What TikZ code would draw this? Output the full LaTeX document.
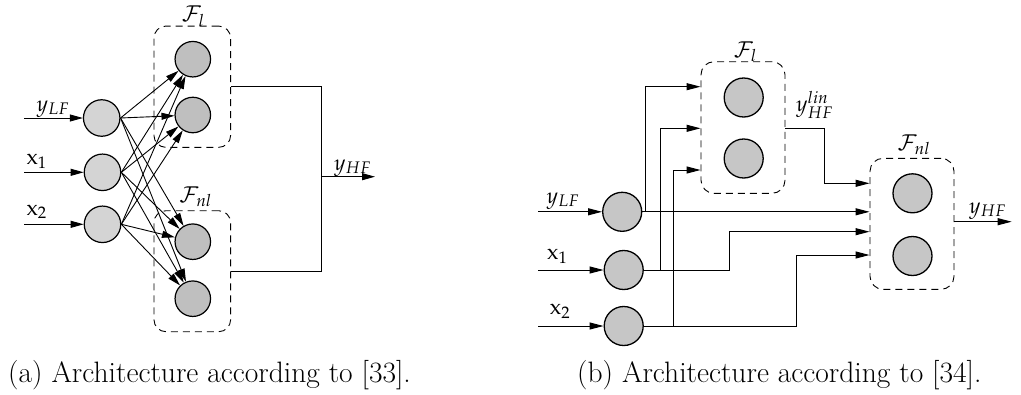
\documentclass[tikz,border=0pt]{standalone}
\usepackage{mathpazo}
\usetikzlibrary{arrows.meta}
\definecolor{inA}{HTML}{D4D4D4}
\definecolor{hidA}{HTML}{BFBFBF}
\definecolor{nodB}{HTML}{C6C6C6}
\begin{document}
\begin{tikzpicture}[x=1pt,y=-1pt,
  arr/.style={-{Triangle[length=13pt,width=7pt]}, line width=0.9pt},
  arrB/.style={-{Triangle[length=14pt,width=7pt]}, line width=1pt},
  plain/.style={line width=1pt},
  neuin/.style={circle, draw, line width=1.2pt, fill=inA, minimum size=36.5pt, inner sep=0pt},
  neuhid/.style={circle, draw, line width=1.2pt, fill=hidA, minimum size=35.5pt, inner sep=0pt},
  neub/.style={circle, draw, line width=1.3pt, fill=nodB, minimum size=39pt, inner sep=0pt},
  dbox/.style={draw, dashed, dash pattern=on 7pt off 5pt, line width=0.9pt, rounded corners=12pt, inner sep=0pt},
  lbl/.style={font=\fontsize{22}{26}\selectfont, inner sep=0pt, anchor=base},
  captext/.style={font=\fontsize{29.5}{34}\selectfont, inner sep=0pt, anchor=base west}
]
\useasboundingbox (0,0) rectangle (1021,394);

% ---------------- panel (a) ----------------
\node[neuin] (a1) at (101.7,118) {};
\node[neuin] (a2) at (102.5,172.3) {};
\node[neuin] (a3) at (102.5,224.3) {};
\node[neuhid] (h1) at (192.8,59.2) {};
\node[neuhid] (h2) at (192.8,115) {};
\node[neuhid] (h3) at (192.8,241.7) {};
\node[neuhid] (h4) at (192.8,298.7) {};
\node[dbox, minimum width=76.7pt, minimum height=121.3pt] (fla) at (192.3,86.7) {};
\node[dbox, minimum width=76.7pt, minimum height=121pt] (fnla) at (192.3,271.2) {};

\coordinate (ia1) at (24,118);
\coordinate (ia2) at (24,172.3);
\coordinate (ia3) at (24,224.3);
\draw[arr] (ia1) -- (a1);
\draw[arr] (ia2) -- (a2);
\draw[arr] (ia3) -- (a3);

\foreach \s in {a1,a2,a3}{
  \foreach \t in {h1,h2,h3,h4}{
    \draw[arr] (\s.east) -- (\t);
  }
}

\coordinate (ja) at (321.7,176.7);
\coordinate (oa) at (375,176.7);
\draw[plain] (fla.east) -| (ja) |- (fnla.east);
\draw[arr] (ja) -- (oa);

\node[lbl] (lya) at (53,111) {$y_{LF}$};
\node[lbl] (lx1a) at (36.7,164.5) {$\mathrm{x}_1$};
\node[lbl] (lx2a) at (36.7,215) {$\mathrm{x}_2$};
\node[lbl] (lfla) at (193.3,21.5) {$\mathcal{F}_l$};
\node[lbl] (lfnla) at (195.7,202) {$\mathcal{F}_{nl}$};
\node[lbl] (lyha) at (352.5,170) {$y_{HF}$};

% ---------------- panel (b) ----------------
\node[neub] (b1) at (622.2,211.8) {};
\node[neub] (b2) at (623.7,270) {};
\node[neub] (b3) at (623.7,326) {};
\node[neub] (g1) at (743.7,97.5) {};
\node[neub] (g2) at (743.7,158.5) {};
\node[neub] (g3) at (912.5,193.3) {};
\node[neub] (g4) at (912.5,256) {};
\node[dbox, rounded corners=13pt, minimum width=84pt, minimum height=131.6pt] (flb) at (743,127.5) {};
\node[dbox, rounded corners=13pt, minimum width=84pt, minimum height=131pt] (fnlb) at (912,223.8) {};

\coordinate (ib1) at (538.3,211.8);
\coordinate (ib2) at (538.3,270);
\coordinate (ib3) at (538.3,326);
\draw[arrB] (ib1) -- (b1);
\draw[arrB] (ib2) -- (b2);
\draw[arrB] (ib3) -- (b3);

\coordinate (c1) at (645,86.7);
\coordinate (c2) at (660,128.3);
\coordinate (c3) at (729.3,231.7);
\coordinate (c4) at (673.3,170);
\coordinate (c5) at (796.7,255);
\coordinate (c6) at (824,183.3);
\coordinate (ob) at (1011.7,221.7);

\draw[arrB] (b1.east) -| (c1) -- (flb.west |- c1);
\draw[arrB] (b1.east) -- (fnlb.west |- b1.east);
\draw[arrB] (b2.east) -| (c2) -- (flb.west |- c2);
\draw[arrB] (b2.east) -| (c3) -- (fnlb.west |- c3);
\draw[arrB] (b3.east) -| (c4) -- (flb.west |- c4);
\draw[arrB] (b3.east) -| (c5) -- (fnlb.west |- c5);
\draw[arrB] (flb.east |- c2) -| (c6) -- (fnlb.west |- c6);
\draw[arrB] (fnlb.east |- ob) -- (ob);

\node[lbl] (lyb) at (563,203) {$y_{LF}$};
\node[lbl] (lx1b) at (557.3,259.5) {$\mathrm{x}_1$};
\node[lbl] (lx2b) at (560,314.5) {$\mathrm{x}_2$};
\node[lbl] (lflb) at (745.5,57) {$\mathcal{F}_l$};
\node[lbl] (lfnlb) at (914,150) {$\mathcal{F}_{nl}$};
\node[lbl] (lylin) at (814.5,111) {$y^{lin}_{HF}$};
\node[lbl] (lyhb) at (987.5,213) {$y_{HF}$};

% ---------------- captions ----------------
\node[captext] (capa) at (8,382) {(a) Architecture according to [33].};
\node[captext] (capb) at (577,382) {(b) Architecture according to [34].};
\end{tikzpicture}
\end{document}
